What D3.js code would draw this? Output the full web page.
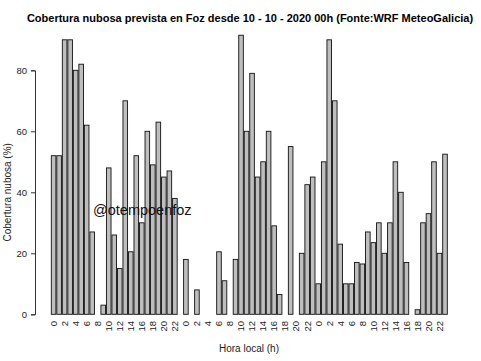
<!DOCTYPE html>
<html>
<head>
<meta charset="utf-8">
<script src="https://cdn.jsdelivr.net/npm/d3@7"></script>
<style>
  body { margin: 0; background: #fff; }
  svg { display: block; font-family: "Liberation Sans", Arial, sans-serif; }
</style>
</head>
<body>
<div id="chart"></div>
<script>
// hourly forecast, 3 days
const hours = [
    0,1,2,3,4,5,6,7,8,9,10,11,12,13,14,15,16,17,18,19,20,21,22,23,
    0,1,2,3,4,5,6,7,8,9,10,11,12,13,14,15,16,17,18,19,20,21,22,23,
    0,1,2,3,4,5,6,7,8,9,10,11,12,13,14,15,16,17,18,19,20,21,22,23
];
const cloudCover = [
    52, 52, 90, 90, 80, 82, 62, 27, 0, 3, 48, 26, 15, 70, 20.5, 52, 30, 60, 49, 63, 45, 47, 38, 0,
    18, 0, 8, 0, 0, 0, 20.5, 11, 0, 18, 91.5, 60, 79, 45, 50, 60, 29, 6.5, 0, 55, 0, 20, 42.5, 45,
    10, 50, 90, 70, 23, 10, 10, 17, 16.5, 27, 23.5, 30, 20, 30, 50, 40, 17, 0, 1.5, 30, 33, 50, 20, 52.5
];
const yTicks = [0, 20, 40, 60, 80];

const title = "Cobertura nubosa prevista en Foz desde 10 - 10 - 2020 00h (Fonte:WRF MeteoGalicia)";
const xTitle = "Hora local (h)";
const yTitle = "Cobertura nubosa (%)";
const watermark = "@otempoenfoz";

const width = 481;
const height = 361;
const margin = { top: 70.3, right: 33.7, bottom: 46.7, left: 51.3 };

const svg = d3.select("#chart").append("svg")
    .attr("width", width)
    .attr("height", height);

const idx = cloudCover.map((d, i) => i);

const x = d3.scaleBand()
    .domain(idx)
    .range([margin.left, width - margin.right])
    .paddingInner(1 / 6)
    .paddingOuter(0);

const y = d3.scaleLinear()
    .domain([0, 80])
    .range([height - margin.bottom, margin.top]);

// bars
svg.append("g")
    .selectAll("rect")
    .data(cloudCover)
    .enter()
    .append("rect")
    .attr("x", (d, i) => x(i))
    .attr("y", d => y(d))
    .attr("width", x.bandwidth())
    .attr("height", d => y(0) - y(d))
    .attr("fill", "#bebebe")
    .attr("stroke", "#111")
    .attr("stroke-width", 0.9);

// y axis
const yAxis = svg.append("g")
    .attr("transform", "translate(35,0)")
    .call(d3.axisLeft(y).tickValues(yTicks).tickSize(4).tickPadding(4));
yAxis.select(".domain").attr("stroke", "#333");
yAxis.selectAll(".tick line").attr("stroke", "#333");
yAxis.selectAll("text")
    .attr("font-size", "9.5px")
    .attr("font-family", "Liberation Sans, Arial, sans-serif")
    .attr("fill", "#222");

// x labels, every second hour
svg.append("g")
    .selectAll("text")
    .data(idx.filter(i => i % 2 === 0))
    .enter()
    .append("text")
    .attr("transform", i => "translate(" + (x(i) + x.bandwidth() / 2) + ",321)rotate(-90)")
    .attr("dy", "0.35em")
    .attr("text-anchor", "end")
    .attr("font-size", "9.5px")
    .attr("fill", "#222")
    .text(i => hours[i]);

// titles
svg.append("text")
    .attr("x", 250)
    .attr("y", 22)
    .attr("text-anchor", "middle")
    .attr("font-weight", "bold")
    .attr("font-size", "11px")
    .attr("fill", "#000")
    .text(title);

svg.append("text")
    .attr("x", 249)
    .attr("y", 352)
    .attr("text-anchor", "middle")
    .attr("font-size", "10px")
    .attr("fill", "#222")
    .text(xTitle);

svg.append("text")
    .attr("transform", "translate(11," + y(40) + ")rotate(-90)")
    .attr("text-anchor", "middle")
    .attr("font-size", "10px")
    .attr("fill", "#222")
    .text(yTitle);

svg.append("text")
    .attr("x", 93)
    .attr("y", 215)
    .attr("font-size", "14.5px")
    .attr("fill", "#111")
    .text(watermark);
</script>
</body>
</html>
